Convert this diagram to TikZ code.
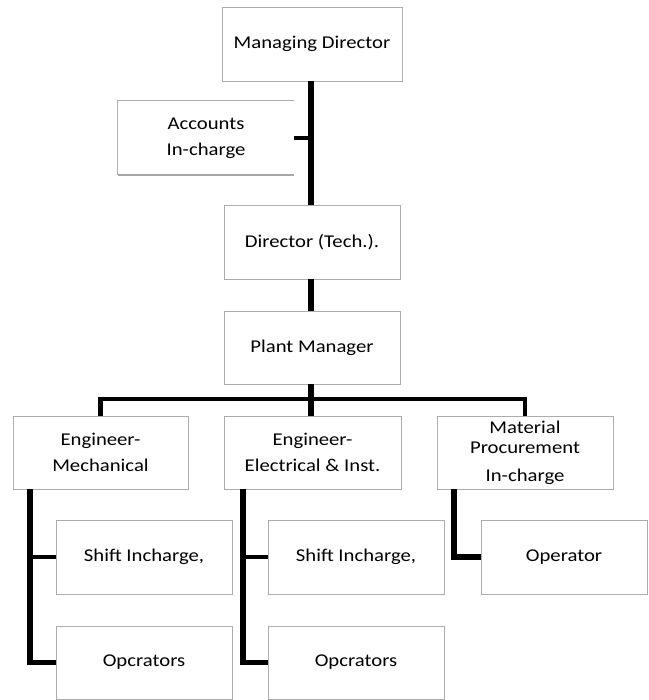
\documentclass[tikz,border=0pt]{standalone}
\usepackage{fontspec}
\setmainfont{Carlito}[FakeStretch=1.15]
\usetikzlibrary{shadows}
\begin{document}
\begin{tikzpicture}[x=1pt,y=-1pt,
  bx/.style={draw=gray!65, line width=0.9pt, fill=white, align=center,
    inner sep=0pt, text=black,
    font=\fontsize{18}{26}\selectfont,
    drop shadow={shadow xshift=0.8pt, shadow yshift=-1.4pt, fill=gray!70, opacity=1}},
  wide/.style={minimum width=176pt, minimum height=74pt},
  link/.style={line width=5.5pt, line cap=butt, draw=black},
  stub/.style={line width=4.5pt, draw=black}]
\useasboundingbox (0,0) rectangle (648,700);
\fill[white] (0,0) rectangle (648,700);

\coordinate (busL) at (100.5,399);
\coordinate (busR) at (525,399);

\node[bx, wide, minimum width=180pt] (md) at (312,44) {Managing Director};
\node[wide, inner sep=0pt, align=center, text=black, font=\fontsize{18}{26}\selectfont] (acc) at (206,138) {Accounts\\In-charge};
\node[bx, wide] (dt) at (312,242) {Director (Tech.).};
\node[bx, wide, minimum height=73pt] (pm) at (312,347.5) {Plant Manager};
\node[bx, wide, minimum width=175pt, minimum height=73pt] (em) at (100.5,452.5) {Engineer-\\Mechanical};
\node[bx, wide, minimum width=177pt, minimum height=73pt] (ee) at (312.5,452.5) {Engineer-\\Electrical \& Inst.};
\node[bx, wide, minimum height=73pt] (mp) at (525,452.5) {Material\\[-6pt]Procurement\\[2pt]In-charge};
\node[bx, wide] (s1) at (144,557) {Shift Incharge,};
\node[bx, wide, minimum height=73pt] (o1) at (144,662.5) {Opcrators};
\node[bx, wide] (s2) at (356,557) {Shift Incharge,};
\node[bx, wide, minimum height=73pt] (o2) at (356,662.5) {Opcrators};
\node[bx, wide, minimum width=166pt] (op) at (564,557) {Operator};

% accounts box: open on the right
\draw[gray!65, line width=0.9pt] (acc.north east) -- (acc.north west) -- (acc.south west);
\draw[gray!70, line width=2pt] (acc.south west) -- (acc.south east);

% connectors
\coordinate (mdb) at (311,81);
\draw[link] (mdb) -- (311,205);
\draw[stub] (acc.east) -- (311,138);
\draw[link] (311,279) -- (311,311);
\draw[link] (311,384) -- (311,399);
\draw[stub] (em.north) -- (em.north |- busL) -- (mp.north |- busR) -- (mp.north);
\draw[link] (311,396) -- (311,416);

\coordinate (v1) at (30,489);
\coordinate (v2) at (243,489);
\coordinate (v3) at (454,489);
\draw[link] (v1) -- (v1 |- o1.west) -- (o1.west);
\draw[stub] (v1 |- s1.west) -- (s1.west);
\draw[link] (v2) -- (v2 |- o2.west) -- (o2.west);
\draw[stub] (v2 |- s2.west) -- (s2.west);
\draw[link] (v3) -- (v3 |- op.west) -- (op.west);
\end{tikzpicture}
\end{document}
